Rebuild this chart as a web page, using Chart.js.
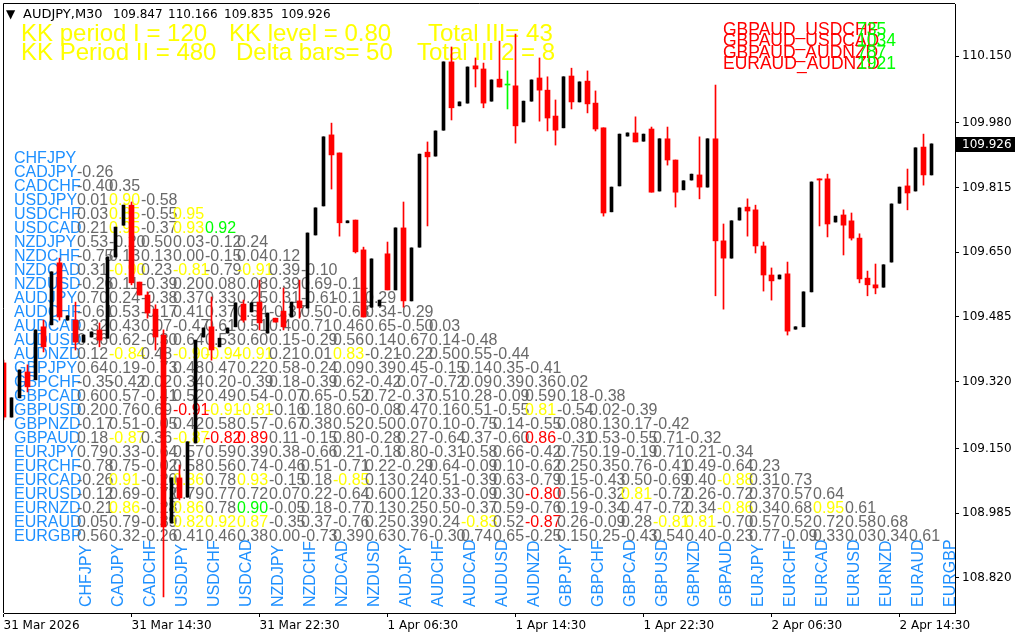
<!DOCTYPE html>
<html lang="en">
<head>
<meta charset="UTF-8">
<title>AUDJPY,M30</title>
<script src="https://cdn.jsdelivr.net/npm/chart.js@4.4.1/dist/chart.umd.min.js"></script>
<style>
  html, body { margin: 0; padding: 0; background: #fff; }
</style>
</head>
<body>
<canvas id="grafico" width="1024" height="640"></canvas>
<script>
// ---------- dados do grafico ----------
const simbolo = "AUDJPY,M30";
const cotacao = ["109.847", "110.166", "109.835", "109.926"];
const parametros1 = ["KK period I = 120", "KK level = 0.80", "Total III= 43"];
const parametros2 = ["KK Period II = 480", "Delta bars= 50", "Total III 2 = 8"];
const alertaPares = ["GBPAUD_USDCHF", "GBPAUD_USDCAD", "GBPAUD_AUDNZD", "EURAUD_AUDNZD"];
const alertaContagem = ["735", "1034", "787", "1921"];

const rotulosTempo = ["31 Mar 2026", "31 Mar 14:30", "31 Mar 22:30", "1 Apr 06:30",
                      "1 Apr 14:30", "1 Apr 22:30", "2 Apr 06:30", "2 Apr 14:30"];
const barrasRotulo = [0, 16, 32, 48, 64, 80, 96, 112];
const ticksPreco = [110.150, 109.980, 109.815, 109.650, 109.485, 109.320, 109.150, 108.985, 108.820];

// velas M30 (31 Mar 06:30 ... 2 Apr 16:30)
const abertura = [
  109.368, 109.230, 109.279, 109.345, 109.325, 109.460, 109.465, 109.623, 109.477, 109.477,
  109.421, 109.434, 109.452, 109.431, 109.638, 109.719, 109.770, 109.574, 109.541, 109.505,
  109.439, 108.960, 109.075, 109.026, 109.164, 109.434, 109.460, 109.409, 109.444, 109.460,
  109.518, 109.498, 109.523, 109.444, 109.482, 109.500, 109.485, 109.526, 109.508, 109.694,
  109.768, 109.949, 109.903, 109.725, 109.732, 109.656, 109.510, 109.513, 109.646, 109.554,
  109.712, 109.526, 109.663, 109.905, 109.895, 109.961, 110.135, 110.023, 110.030, 110.125,
  110.117, 110.035, 110.091, 110.076, 110.074, 109.982, 110.035, 110.094, 110.063, 109.997,
  109.967, 110.099, 110.033, 110.086, 110.030, 109.967, 109.753, 109.819, 109.946, 109.954,
  109.933, 109.964, 109.806, 109.939, 109.885, 109.809, 109.834, 109.847, 109.816, 109.939,
  109.679, 109.635, 109.732, 109.765, 109.758, 109.666, 109.592, 109.582, 109.595, 109.454,
  109.460, 109.549, 109.837, 109.837, 109.727, 109.745, 109.730, 109.686, 109.584, 109.567,
  109.561, 109.625, 109.775, 109.819, 109.806, 109.918, 109.847];
const maxima = [
  109.375, 109.279, 109.350, 109.363, 109.452, 109.477, 109.600, 109.635, 109.488, 109.523,
  109.439, 109.447, 109.470, 109.638, 109.714, 109.770, 109.778, 109.574, 109.549, 109.516,
  109.452, 109.075, 109.108, 109.167, 109.426, 109.457, 109.536, 109.431, 109.457, 109.521,
  109.528, 109.521, 109.579, 109.495, 109.482, 109.559, 109.523, 109.579, 109.699, 109.763,
  109.944, 109.979, 109.903, 109.730, 109.732, 109.663, 109.633, 109.528, 109.676, 109.712,
  109.778, 109.661, 109.900, 109.931, 109.959, 110.135, 110.173, 110.033, 110.122, 110.145,
  110.132, 110.089, 110.188, 110.112, 110.206, 110.035, 110.089, 110.145, 110.097, 110.038,
  110.097, 110.119, 110.084, 110.112, 110.061, 109.967, 109.816, 109.951, 109.954, 109.995,
  109.951, 109.969, 109.939, 109.969, 109.885, 109.832, 109.849, 109.944, 109.939, 110.076,
  109.722, 109.730, 109.763, 109.786, 109.770, 109.676, 109.610, 109.592, 109.625, 109.460,
  109.549, 109.829, 109.837, 109.849, 109.742, 109.758, 109.750, 109.697, 109.602, 109.620,
  109.618, 109.773, 109.816, 109.862, 109.916, 109.951, 109.926];
const minima = [
  109.223, 109.230, 109.279, 109.294, 109.325, 109.396, 109.465, 109.477, 109.477, 109.401,
  109.421, 109.434, 109.409, 109.431, 109.638, 109.719, 109.567, 109.541, 109.482, 109.401,
  108.772, 108.960, 109.019, 109.026, 109.164, 109.434, 109.375, 109.409, 109.444, 109.460,
  109.472, 109.498, 109.452, 109.444, 109.472, 109.452, 109.485, 109.482, 109.508, 109.694,
  109.768, 109.811, 109.691, 109.725, 109.648, 109.485, 109.510, 109.513, 109.554, 109.554,
  109.510, 109.526, 109.663, 109.717, 109.895, 109.961, 109.987, 110.023, 110.030, 110.071,
  110.018, 110.035, 110.071, 110.015, 109.928, 109.982, 110.035, 109.984, 109.959, 109.923,
  109.967, 110.015, 110.033, 110.005, 109.959, 109.742, 109.753, 109.819, 109.946, 109.931,
  109.933, 109.803, 109.806, 109.872, 109.765, 109.809, 109.834, 109.786, 109.816, 109.539,
  109.505, 109.635, 109.732, 109.691, 109.648, 109.551, 109.528, 109.582, 109.439, 109.454,
  109.460, 109.549, 109.717, 109.689, 109.727, 109.643, 109.681, 109.572, 109.539, 109.544,
  109.561, 109.625, 109.775, 109.758, 109.806, 109.821, 109.847];
const fechamento = [
  109.230, 109.279, 109.350, 109.307, 109.452, 109.409, 109.600, 109.485, 109.488, 109.421,
  109.439, 109.447, 109.426, 109.638, 109.714, 109.770, 109.572, 109.541, 109.495, 109.434,
  108.950, 109.075, 109.024, 109.167, 109.426, 109.457, 109.401, 109.431, 109.457, 109.521,
  109.477, 109.521, 109.470, 109.495, 109.472, 109.460, 109.523, 109.508, 109.699, 109.763,
  109.944, 109.898, 109.725, 109.730, 109.651, 109.485, 109.633, 109.528, 109.554, 109.712,
  109.526, 109.661, 109.900, 109.893, 109.959, 110.135, 110.018, 110.033, 110.122, 110.117,
  110.030, 110.089, 110.071, 110.076, 109.972, 110.035, 110.089, 110.063, 109.992, 109.961,
  110.097, 110.033, 110.084, 110.028, 109.964, 109.750, 109.816, 109.951, 109.954, 109.931,
  109.951, 109.803, 109.939, 109.885, 109.803, 109.832, 109.849, 109.816, 109.939, 109.679,
  109.635, 109.730, 109.763, 109.755, 109.666, 109.592, 109.577, 109.592, 109.449, 109.460,
  109.549, 109.829, 109.834, 109.722, 109.742, 109.719, 109.686, 109.582, 109.567, 109.559,
  109.618, 109.773, 109.816, 109.801, 109.916, 109.847, 109.926];

// matriz de correlacao (triangulo inferior)
const pares = ["CHFJPY", "CADJPY", "CADCHF", "USDJPY", "USDCHF", "USDCAD", "NZDJPY", "NZDCHF",
               "NZDCAD", "NZDUSD", "AUDJPY", "AUDCHF", "AUDCAD", "AUDUSD", "AUDNZD", "GBPJPY",
               "GBPCHF", "GBPCAD", "GBPUSD", "GBPNZD", "GBPAUD", "EURJPY", "EURCHF", "EURCAD",
               "EURUSD", "EURNZD", "EURAUD", "EURGBP"];
const correlacoes = [
  [],
  [-0.26],
  [-0.40, 0.35],
  [0.01, 0.90, -0.58],
  [0.03, 0.85, -0.55, 0.95],
  [0.21, 0.95, -0.37, 0.93, 0.92],
  [0.53, -0.20, 0.50, 0.03, -0.12, 0.24],
  [-0.75, 0.13, 0.13, 0.00, -0.15, 0.04, 0.12],
  [0.31, -0.90, 0.23, -0.81, -0.79, -0.91, 0.39, -0.10],
  [-0.26, 0.11, -0.39, 0.20, 0.08, 0.08, 0.39, 0.69, -0.11],
  [0.70, 0.24, -0.38, 0.37, 0.33, 0.25, 0.31, -0.61, -0.11, 0.29],
  [-0.61, 0.53, -0.17, 0.41, 0.37, 0.54, -0.37, 0.50, -0.63, 0.34, -0.29],
  [0.32, 0.43, 0.07, -0.47, 0.61, 0.51, 0.40, 0.71, 0.46, 0.65, -0.50, 0.03],
  [0.36, 0.62, -0.30, 0.64, 0.53, 0.60, 0.15, -0.29, 0.56, 0.14, 0.67, 0.14, -0.48],
  [0.12, -0.84, 0.48, -0.90, -0.94, -0.91, 0.21, 0.01, 0.83, -0.21, -0.22, 0.50, 0.55, -0.44],
  [0.64, 0.19, -0.73, 0.48, 0.47, 0.22, 0.58, -0.24, 0.09, 0.39, 0.45, -0.15, 0.14, 0.35, -0.41],
  [-0.35, -0.42, 0.02, 0.34, 0.20, -0.39, 0.18, -0.39, 0.62, -0.42, 0.07, -0.72, 0.09, 0.39, 0.36, 0.02],
  [0.60, 0.57, -0.41, 0.52, 0.49, 0.54, -0.07, 0.65, -0.52, 0.72, -0.37, 0.51, 0.28, -0.09, 0.59, 0.18, -0.38],
  [0.20, 0.76, 0.69, -0.91, -0.91, -0.81, -0.16, 0.18, 0.60, -0.08, 0.47, 0.16, 0.51, -0.55, 0.81, -0.54, 0.02, -0.39],
  [-0.17, 0.51, -0.05, 0.42, 0.58, 0.57, -0.67, 0.38, 0.52, 0.50, 0.07, 0.10, -0.75, 0.14, -0.55, 0.08, 0.13, 0.17, -0.42],
  [0.18, -0.87, 0.36, -0.87, -0.82, 0.89, 0.11, -0.15, 0.80, -0.28, 0.27, -0.64, 0.37, -0.60, 0.86, -0.31, 0.53, -0.55, 0.71, -0.32],
  [0.79, 0.33, -0.64, 0.57, 0.59, 0.39, 0.38, -0.66, 0.21, -0.18, 0.80, -0.31, -0.58, 0.66, -0.42, 0.75, 0.19, -0.19, 0.71, 0.21, -0.34],
  [-0.78, 0.75, -0.02, 0.58, 0.56, 0.74, -0.46, 0.51, -0.71, 0.22, -0.29, 0.64, -0.09, 0.10, -0.62, 0.25, 0.35, 0.76, -0.41, 0.49, -0.64, 0.23],
  [-0.26, 0.91, -0.20, 0.86, 0.78, 0.93, -0.15, 0.18, -0.85, 0.13, 0.24, 0.51, -0.39, 0.63, -0.79, 0.15, -0.43, 0.50, -0.69, 0.40, -0.88, 0.31, 0.73],
  [-0.12, 0.69, -0.72, 0.79, 0.77, 0.72, 0.07, 0.22, -0.64, 0.60, 0.12, 0.33, -0.09, 0.30, -0.80, 0.56, -0.32, 0.81, -0.72, 0.26, -0.72, 0.37, 0.57, 0.64],
  [-0.21, 0.86, -0.28, 0.86, 0.78, 0.90, -0.05, 0.18, -0.77, 0.13, 0.25, 0.50, -0.37, 0.59, -0.76, 0.19, -0.34, 0.47, -0.72, 0.34, -0.86, 0.34, 0.68, 0.95, 0.61],
  [0.05, 0.79, -0.39, 0.82, 0.92, 0.87, -0.35, 0.37, -0.76, 0.25, 0.39, 0.24, -0.83, 0.52, -0.87, 0.26, -0.09, 0.28, -0.81, 0.81, -0.70, 0.57, 0.52, 0.72, 0.58, 0.68],
  [0.56, 0.32, -0.26, 0.41, 0.46, 0.38, 0.00, -0.73, 0.39, 0.63, 0.76, -0.30, 0.74, 0.65, -0.25, 0.15, 0.25, -0.43, 0.54, 0.40, -0.23, 0.77, -0.09, 0.33, 0.03, 0.34, 0.61]
];
// celulas marcadas [linha, coluna]
const celulasVermelhas = [[18, 3], [20, 4], [20, 5], [20, 14], [24, 14], [26, 14]];
const celulasVerdes = [[5, 4], [25, 5]];
const nivelKK = 0.80;

// ---------- estilos ----------
const FONTE = '"Liberation Sans", Arial, sans-serif';
const FONTE_EIXO = '"DejaVu Sans", Tahoma, sans-serif';
const VERMELHO = '#FF0000';
const PRETO = '#000000';
const VERDE = '#00FF00';
const X_MIN = 0.0625, X_MAX = 118.9375;

function tipoVela(i) {
  if (fechamento[i] > abertura[i]) return 'alta';
  if (fechamento[i] < abertura[i]) return 'baixa';
  return 'doji';
}

function corCelula(i, j, v) {
  if (celulasVermelhas.some(c => c[0] === i && c[1] === j)) return VERMELHO;
  if (celulasVerdes.some(c => c[0] === i && c[1] === j)) return VERDE;
  if (Math.abs(v) > nivelKK) return '#FFFF00';
  return '#696969';
}

// monta os datasets das velas
const indices = abertura.map((_, i) => i);
const pavios = indices.map(i => ({ x: i, y: [minima[i], maxima[i]] }));
const corPavio = indices.map(i => tipoVela(i) === 'baixa' ? VERMELHO : (tipoVela(i) === 'doji' ? VERDE : PRETO));
const corposBaixa = indices.filter(i => tipoVela(i) === 'baixa').map(i => ({ x: i, y: [abertura[i], fechamento[i]] }));
const corposAlta = indices.filter(i => tipoVela(i) === 'alta').map(i => ({ x: i, y: [abertura[i], fechamento[i]] }));
const corposDoji = indices.filter(i => tipoVela(i) === 'doji').map(i => ({ x: i, y: [abertura[i], fechamento[i]] }));

// textos desenhados por baixo das velas (objetos do indicador)
const painel = {
  id: 'painel',
  beforeDatasetsDraw(chart) {
    const ctx = chart.ctx;
    const a = chart.chartArea;
    ctx.save();
    ctx.beginPath();
    ctx.rect(a.left, a.top, a.right - a.left, a.bottom - a.top);
    ctx.clip();
    ctx.textBaseline = 'alphabetic';
    ctx.textAlign = 'left';

    // parametros em amarelo
    ctx.font = '24px ' + FONTE;
    ctx.fillStyle = '#FFFF00';
    const xs1 = [21, 229, 428], xs2 = [21, 236, 417];
    parametros1.forEach((t, k) => ctx.fillText(t, xs1[k], 41));
    parametros2.forEach((t, k) => ctx.fillText(t, xs2[k], 60));

    // alertas no canto superior direito
    ctx.font = '17.5px ' + FONTE;
    alertaPares.forEach((t, k) => {
      ctx.fillStyle = VERMELHO;
      ctx.fillText(t, 723, 35 + k * 11.3);
    });
    alertaContagem.forEach((t, k) => {
      ctx.fillStyle = VERDE;
      ctx.fillText(t, 857, 35 + k * 11.3);
    });

    // matriz de correlacao
    ctx.font = '16px ' + FONTE;
    pares.forEach((par, i) => {
      const yb = a.top + 159 + i * 14;
      ctx.fillStyle = '#1E90FF';
      ctx.fillText(par, a.left + 10, yb);
      correlacoes[i].forEach((v, j) => {
        ctx.fillStyle = corCelula(i, j, v);
        ctx.fillText(v.toFixed(2), a.left + 73 + j * 32, yb);
      });
    });

    // nomes das colunas na vertical
    ctx.fillStyle = '#1E90FF';
    pares.forEach((par, j) => {
      ctx.save();
      ctx.translate(a.left + 87 + j * 32, a.top + 603);
      ctx.rotate(-Math.PI / 2);
      ctx.fillText(par, 0, 0);
      ctx.restore();
    });
    ctx.restore();
  },
  afterDraw(chart) {
    const ctx = chart.ctx;
    const a = chart.chartArea;
    ctx.save();
    // moldura
    ctx.strokeStyle = PRETO;
    ctx.lineWidth = 1;
    ctx.beginPath();
    ctx.moveTo(a.left - 0.5, a.bottom);
    ctx.lineTo(a.left - 0.5, a.top - 0.5);
    ctx.lineTo(a.right, a.top - 0.5);
    ctx.stroke();

    // cabecalho do simbolo
    ctx.fillStyle = PRETO;
    ctx.textBaseline = 'alphabetic';
    ctx.font = '12px ' + FONTE_EIXO;
    ctx.fillText('\u25BC', 6, 18);
    ctx.font = '13px ' + FONTE_EIXO;
    ctx.fillText(simbolo, 23, 18);
    ctx.font = '12px ' + FONTE_EIXO;
    const xsCot = [113, 168, 224, 281];
    cotacao.forEach((t, k) => ctx.fillText(t, xsCot[k], 18));

    // etiqueta do preco atual
    const ult = fechamento[fechamento.length - 1];
    const yp = Math.round(chart.scales.y.getPixelForValue(ult));
    ctx.fillStyle = PRETO;
    ctx.fillRect(a.right + 1, yp - 7, 59, 15);
    ctx.fillStyle = '#FFFFFF';
    ctx.textBaseline = 'middle';
    ctx.fillText(ult.toFixed(3), a.right + 7, yp + 1);
    ctx.restore();
  }
};

const grafico = new Chart(document.getElementById('grafico'), {
  type: 'bar',
  data: {
    datasets: [
      { data: corposBaixa, backgroundColor: VERMELHO, barThickness: 5, grouped: false, minBarLength: 1 },
      { data: corposAlta, backgroundColor: PRETO, barThickness: 3, grouped: false, minBarLength: 1 },
      { data: corposDoji, backgroundColor: VERDE, barThickness: 5, grouped: false, minBarLength: 1 },
      { data: pavios, backgroundColor: corPavio, barThickness: 1, grouped: false }
    ]
  },
  options: {
    responsive: false,
    devicePixelRatio: 1,
    animation: false,
    layout: { padding: { left: 4, top: 4, right: 0, bottom: 0 } },
    plugins: { legend: { display: false }, tooltip: { enabled: false } },
    scales: {
      x: {
        type: 'linear',
        offset: false,
        bounds: 'data',
        grace: 0,
        min: X_MIN,
        max: X_MAX,
        afterDataLimits: s => { s.min = X_MIN; s.max = X_MAX; },
        afterBuildTicks: s => {
          s.ticks = barrasRotulo.map(v => ({ value: v }));
          s.min = X_MIN; s.max = X_MAX;
        },
        afterFit: s => { s.height = 27; s.paddingLeft = 0; s.paddingRight = 0; },
        ticks: {
          autoSkip: false, maxRotation: 0, minRotation: 0, align: 'start', padding: 2,
          color: PRETO, font: { family: FONTE_EIXO, size: 12 },
          callback: v => rotulosTempo[barrasRotulo.indexOf(v)] || ''
        },
        grid: { offset: false, drawOnChartArea: false, tickLength: 4, color: PRETO },
        border: { color: PRETO }
      },
      y: {
        type: 'linear',
        position: 'right',
        min: 108.7308,
        max: 110.2825,
        afterBuildTicks: s => { s.ticks = ticksPreco.map(v => ({ value: v })); },
        afterFit: s => { s.width = 69; s.paddingTop = 0; s.paddingBottom = 0; },
        ticks: {
          padding: 3, color: PRETO, font: { family: FONTE_EIXO, size: 12 },
          callback: v => Number(v).toFixed(3)
        },
        grid: { drawOnChartArea: false, tickLength: 4, color: PRETO },
        border: { color: PRETO }
      }
    }
  },
  plugins: [painel]
});
</script>
</body>
</html>
